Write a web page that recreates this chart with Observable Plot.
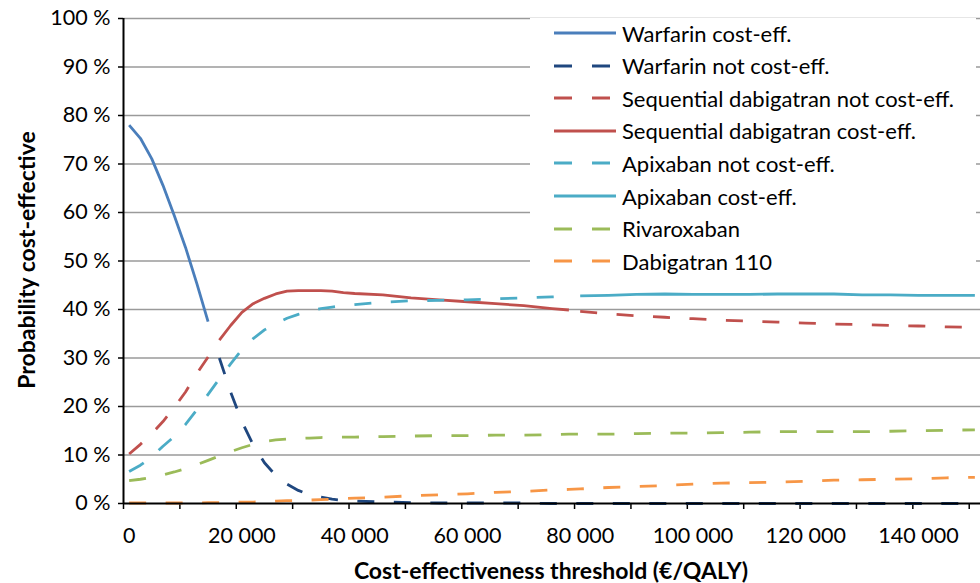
<!DOCTYPE html>
<html><head><meta charset="utf-8">
<script src="https://cdn.jsdelivr.net/npm/d3@7"></script>
<script src="https://cdn.jsdelivr.net/npm/@observablehq/plot@0.6"></script>
<style>
body{margin:0;background:#fff;font-family:Lato,"Noto Sans",sans-serif;}
#wrap{position:relative;width:980px;height:583px;overflow:hidden;}
#legend{position:absolute;left:530px;top:18px;width:446px;height:262px;background:#fff;}
.item{position:absolute;left:24px;height:30px;display:flex;align-items:center;font-size:22px;color:#000;white-space:nowrap;}
.item svg{margin-right:6px;}
.ytitle{position:absolute;left:26px;top:260px;transform:translate(-50%,-50%) rotate(-90deg);font-weight:bold;font-size:23px;white-space:nowrap;}
.xtitle{position:absolute;left:551px;top:570px;transform:translate(-50%,-50%);font-weight:bold;font-size:23px;white-space:nowrap;}
</style></head><body>
<div id="wrap"><div id="chart"></div><div id="legend"></div>
<div class="ytitle">Probability cost-effective</div>
<div class="xtitle">Cost-effectiveness threshold (€/QALY)</div>
</div>
<script>
// Cost-effectiveness thresholds (€/QALY)
const thresholds = [0,2000,4000,6000,8000,10000,12000,14000,16000,18000,20000,22000,24000,26000,28000,30000,32000,34000,36000,38000,40000,
  45000,50000,55000,60000,65000,70000,75000,
  78000,80000,85000,90000,95000,100000,105000,110000,115000,120000,125000,130000,135000,140000,145000,150000];
// Probability cost-effective (%)
const warfarin = [78,75.3,71.1,65.6,59.4,52.8,45.4,37.5,30.0,23.0,16.9,12.1,8.4,5.8,4.0,2.7,1.8,1.3,0.9,0.6,0.5,
  0.3,0.2,0.1,0.1,0.1,0.1,0,
  0,0,0,0,0,0,0,0,0,0,0,0,0,0,0,0];
const seqDabigatran = [10.2,12.2,14.4,16.9,19.8,23.0,26.8,30.2,33.7,36.7,39.4,41.2,42.3,43.2,43.8,43.9,43.9,43.9,43.8,43.5,43.3,
  43.0,42.4,42.0,41.6,41.2,40.8,40.2,
  39.9,39.6,39.1,38.7,38.4,38.1,37.8,37.6,37.4,37.2,37.0,36.9,36.7,36.6,36.4,36.3];
const apixaban = [6.6,7.9,9.6,11.8,13.8,16.3,19.3,22.5,25.7,28.8,31.7,34.0,35.8,37.1,38.2,39.0,39.7,40.2,40.5,40.8,41.0,
  41.5,41.8,41.9,42.0,42.2,42.4,42.6,
  42.7,42.8,42.9,43.1,43.2,43.1,43.1,43.1,43.2,43.2,43.2,43.0,43.0,42.9,42.9,42.9];
const rivaroxaban = [4.7,5.0,5.4,5.9,6.5,7.2,8.0,8.9,9.8,10.7,11.5,12.2,12.8,13.1,13.3,13.4,13.5,13.6,13.7,13.7,13.7,
  13.8,13.9,14.0,14.0,14.1,14.1,14.2,
  14.3,14.3,14.3,14.4,14.5,14.5,14.6,14.7,14.8,14.8,14.8,14.8,14.9,15.0,15.1,15.2];
const dabigatran110 = [0.1,0.1,0.1,0.1,0.1,0.1,0.1,0.2,0.2,0.2,0.3,0.3,0.4,0.5,0.6,0.6,0.7,0.8,0.9,1.0,1.1,
  1.3,1.6,1.8,2.0,2.3,2.5,2.8,
  2.9,3.0,3.3,3.5,3.7,4.0,4.2,4.3,4.4,4.6,4.8,4.9,5.0,5.1,5.3,5.4];
// Threshold ranges where each strategy is the cost-effective one
const warfarinCostEffMax = 14000;
const seqDabigatranCostEffRange = [16000, 78000];
const apixabanCostEffMin = 80000;

const yTicks = [0,10,20,30,40,50,60,70,80,90,100];
const xLabelTicks = [0,20000,40000,60000,80000,100000,120000,140000];
const xTickMarks = [-1000,9000,19000,29000,39000,49000,59000,69000,79000,89000,99000,109000,119000,129000,139000,149000];

const dash = "17,19.5";
const series = [
  {name:"Warfarin cost-eff.", color:"#4a7ebb", dashed:false, values:warfarin, keep:t => t <= warfarinCostEffMax},
  {name:"Warfarin not cost-eff.", color:"#1f477f", dashed:true, values:warfarin, keep:t => t > warfarinCostEffMax},
  {name:"Sequential dabigatran not cost-eff.", color:"#c0504d", dashed:true, values:seqDabigatran, keep:t => t < seqDabigatranCostEffRange[0] || t > seqDabigatranCostEffRange[1]},
  {name:"Sequential dabigatran cost-eff.", color:"#c0504d", dashed:false, values:seqDabigatran, keep:t => t >= seqDabigatranCostEffRange[0] && t <= seqDabigatranCostEffRange[1]},
  {name:"Apixaban not cost-eff.", color:"#4bacc6", dashed:true, values:apixaban, keep:t => t < apixabanCostEffMin},
  {name:"Apixaban cost-eff.", color:"#4bacc6", dashed:false, values:apixaban, keep:t => t >= apixabanCostEffMin},
  {name:"Rivaroxaban", color:"#9bbb59", dashed:true, values:rivaroxaban, keep:() => true},
  {name:"Dabigatran 110", color:"#f79646", dashed:true, values:dabigatran110, keep:() => true}
];

const lineMarks = series.map(s => {
  const rows = thresholds.map((t, i) => ({t, p: s.keep(t) ? s.values[i] : NaN}));
  return Plot.line(rows, {x:"t", y:"p", stroke:s.color, strokeWidth:2.8,
    strokeDasharray: s.dashed ? dash : null, strokeLinejoin:"round", strokeLinecap:"butt"});
});

const fmt = d => d3.format(",")(d).replace(/,/g, " ");

const chart = Plot.plot({
  width:980, height:583,
  marginLeft:123, marginRight:0, marginTop:18, marginBottom:80,
  style:{fontFamily:"Lato, 'Noto Sans', sans-serif", fontSize:"21.5px", color:"#000", background:"#fff"},
  x:{domain:[-1000,151000]},
  y:{domain:[0,100]},
  marks:[
    Plot.gridY(yTicks.filter(d => d > 0), {stroke:"#9a9a9a", strokeOpacity:1, strokeWidth:1.4}),
    Plot.axisY(yTicks, {tickFormat:d => d + " %", tickSize:5, tickPadding:8, stroke:"#000", strokeWidth:1.5, fontSize:21.5, label:null}),
    Plot.axisX(xTickMarks, {tickFormat:() => "", tickSize:6, stroke:"#000", strokeWidth:1.5, label:null}),
    Plot.axisX(xLabelTicks, {tickFormat:fmt, tickSize:0, tickPadding:24, fontSize:21.5, label:null}),
    ...lineMarks,
    Plot.ruleX([-1000], {stroke:"#000", strokeWidth:2}),
    Plot.ruleY([0], {stroke:"#000", strokeWidth:2})
  ]
});
document.getElementById("chart").appendChild(chart);

// Legend
const legend = document.getElementById("legend");
series.forEach((s, i) => {
  const div = document.createElement("div");
  div.className = "item";
  div.style.top = (i * 32.6) + "px";
  div.innerHTML = `<svg width="62" height="10"><line x1="0" y1="5" x2="62" y2="5" stroke="${s.color}" stroke-width="2.8" ${s.dashed ? 'stroke-dasharray="18,20"' : ''}/></svg><span>${s.name}</span>`;
  legend.appendChild(div);
});
</script>
</body></html>
